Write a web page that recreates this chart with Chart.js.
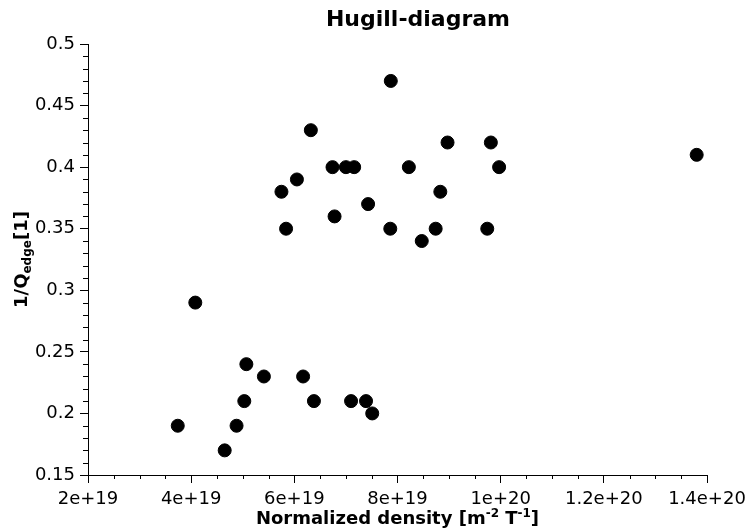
<!DOCTYPE html>
<html>
<head>
<meta charset="utf-8">
<title>Hugill-diagram</title>
<script src="https://cdn.jsdelivr.net/npm/chart.js@4"></script>
<style>
  html, body { margin: 0; padding: 0; background: #fff; }
  #wrap { width: 747px; height: 529px; }
</style>
</head>
<body>
<div id="wrap"><canvas id="hugill"></canvas></div>
<script>
// data
const density = [
  6.32e19, 6.74e19, 7.00e19, 7.16e19, 6.05e19, 5.75e19, 6.78e19, 5.84e19,
  7.87e19, 8.97e19, 9.81e19, 8.22e19, 9.97e19, 8.83e19, 7.43e19, 7.86e19,
  8.74e19, 9.74e19, 8.47e19,
  4.08e19, 5.07e19, 5.41e19, 6.17e19, 5.03e19, 6.38e19, 7.10e19, 7.39e19,
  7.51e19, 3.74e19, 4.88e19, 4.65e19,
  1.38e20
];
const invQ = [
  0.43, 0.40, 0.40, 0.40, 0.39, 0.38, 0.36, 0.35,
  0.47, 0.42, 0.42, 0.40, 0.40, 0.38, 0.37, 0.35,
  0.35, 0.35, 0.34,
  0.29, 0.24, 0.23, 0.23, 0.21, 0.21, 0.21, 0.21,
  0.20, 0.19, 0.19, 0.17,
  0.41
];
const xTicks = [2e19, 4e19, 6e19, 8e19, 1e20, 1.2e20, 1.4e20];
const yTicks = [0.15, 0.2, 0.25, 0.3, 0.35, 0.4, 0.45, 0.5];

const points = density.map((d, i) => ({ x: d, y: invQ[i] }));

Chart.defaults.font.family = "'DejaVu Sans', sans-serif";
Chart.defaults.color = '#000';

// title, minor ticks and axis titles with sub/superscripts
const extras = {
  id: 'extras',
  afterDraw(chart) {
    const c = chart.ctx, xs = chart.scales.x, ys = chart.scales.y;
    const a = chart.chartArea;
    c.save();
    c.strokeStyle = '#000';
    c.lineWidth = 1;
    c.beginPath();
    for (let i = 0; i < xTicks.length - 1; i++) {
      const step = (xTicks[i + 1] - xTicks[i]) / 4;
      for (let k = 1; k < 4; k++) {
        const px = Math.round(xs.getPixelForValue(xTicks[i] + k * step)) + 0.5;
        c.moveTo(px, a.bottom);
        c.lineTo(px, a.bottom + 4);
      }
    }
    for (let i = 0; i < yTicks.length - 1; i++) {
      const step = (yTicks[i + 1] - yTicks[i]) / 5;
      for (let k = 1; k < 5; k++) {
        const py = Math.round(ys.getPixelForValue(yTicks[i] + k * step)) + 0.5;
        c.moveTo(a.left, py);
        c.lineTo(a.left - 5, py);
      }
    }
    c.stroke();

    c.fillStyle = '#000';
    c.textBaseline = 'alphabetic';
    c.textAlign = 'left';
    const big = "bold 18px 'DejaVu Sans'", small = "bold 12px 'DejaVu Sans'";
    const drawParts = (parts, cx, base, font) => {
      let w = 0;
      parts.forEach(p => { c.font = p[1] ? small : (font || big); w += c.measureText(p[0]).width; });
      let x = cx - w / 2;
      parts.forEach(p => {
        c.font = p[1] ? small : (font || big);
        c.fillText(p[0], x, base + (p[1] || 0));
        x += c.measureText(p[0]).width;
      });
    };
    // chart title
    drawParts([['Hugill-diagram']], 418, 26, "bold 22px 'DejaVu Sans'");
    // x title
    drawParts([['Normalized density [m'], ['-2', -7], [' T'], ['-1', -7], [']']],
      (a.left + a.right) / 2, 524);
    // y title
    c.translate(27, (a.top + a.bottom) / 2);
    c.rotate(-Math.PI / 2);
    drawParts([['1/Q'], ['edge', 4], ['[1]']], 0, 0);
    c.restore();
  }
};

new Chart(document.getElementById('hugill'), {
  type: 'scatter',
  data: {
    datasets: [{
      data: points,
      backgroundColor: '#000',
      borderColor: '#000',
      pointRadius: 6.5,
      pointHoverRadius: 6.5
    }]
  },
  options: {
    responsive: true,
    maintainAspectRatio: false,
    animation: false,
    layout: { padding: { left: 0, right: 40, top: 44, bottom: 0 } },
    plugins: {
      legend: { display: false },
      tooltip: { enabled: false },
      title: { display: false }
    },
    scales: {
      x: {
        type: 'linear',
        min: xTicks[0],
        max: xTicks[xTicks.length - 1],
        afterFit(s) { s.height = 54; s.paddingLeft = 0; s.paddingRight = 0; },
        afterBuildTicks(s) { s.ticks = xTicks.map(v => ({ value: v })); },
        border: { color: '#000', width: 1 },
        grid: { drawOnChartArea: false, color: '#000', tickLength: 8 },
        ticks: {
          color: '#000',
          font: { size: 18 },
          padding: 6,
          maxRotation: 0,
          callback: v => Number(v.toPrecision(6)).toExponential()
        }
      },
      y: {
        type: 'linear',
        min: yTicks[0],
        max: yTicks[yTicks.length - 1],
        afterFit(s) { s.width = 88; s.paddingTop = 0; s.paddingBottom = 0; },
        afterBuildTicks(s) { s.ticks = yTicks.map(v => ({ value: v })); },
        border: { color: '#000', width: 1 },
        grid: { drawOnChartArea: false, color: '#000', tickLength: 8 },
        ticks: {
          color: '#000',
          font: { size: 18 },
          padding: 5,
          callback: v => String(Number(v.toFixed(2)))
        }
      }
    }
  },
  plugins: [extras]
});
</script>
</body>
</html>
